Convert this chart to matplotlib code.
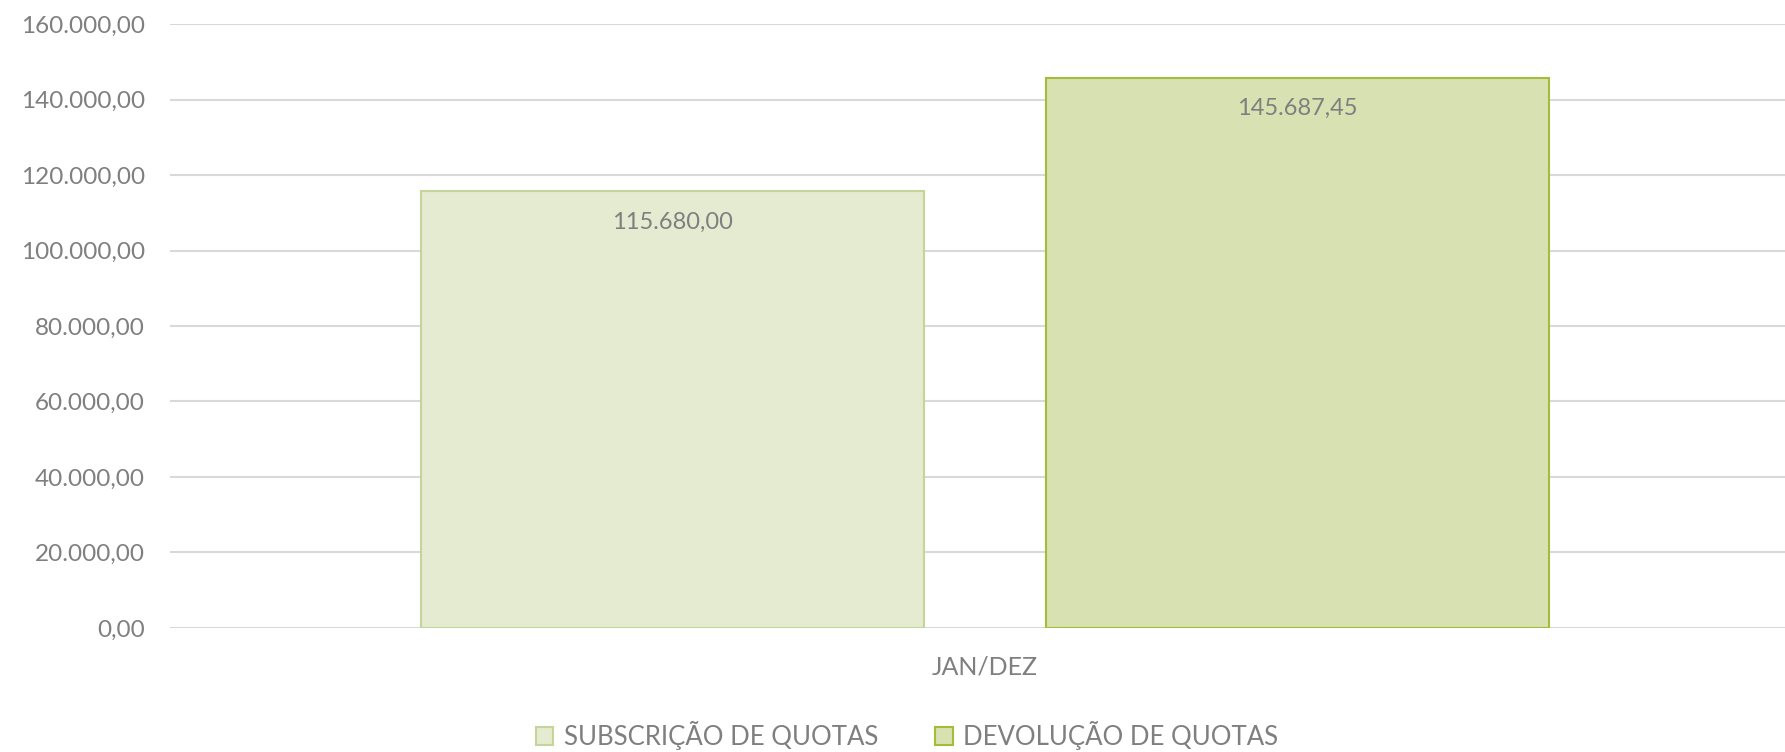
import numpy as np
import matplotlib
matplotlib.use("Agg")
from matplotlib import pyplot as plt
from matplotlib.ticker import FuncFormatter

plt.rcParams["font.family"] = ["Lato", "DejaVu Sans"]

categories = ["JAN/DEZ"]
series_names = ["SUBSCRIÇÃO DE QUOTAS", "DEVOLUÇÃO DE QUOTAS"]
subscricao = [115680.00]
devolucao = [145687.45]

fills = ["#e4ebd0", "#d8e1b2"]
edges = ["#c5d49a", "#a3bd38"]
text_col = "#7f7f7f"


def br_fmt(v, pos=None):
    s = f"{v:,.2f}"
    return s.replace(",", "X").replace(".", ",").replace("X", ".")


fig = plt.figure(figsize=(17.85, 7.52), dpi=100)
ax = fig.add_axes([0.0952, 0.165, 0.9048, 0.803])

x = np.arange(len(categories))
width = 0.3115
offset = 0.1935
bars1 = ax.bar(x - offset, subscricao, width, color=fills[0], edgecolor=edges[0],
               linewidth=1.5, label=series_names[0], zorder=3)
bars2 = ax.bar(x + offset, devolucao, width, color=fills[1], edgecolor=edges[1],
               linewidth=1.5, label=series_names[1], zorder=3)

for bars in (bars1, bars2):
    for b in bars:
        ax.annotate(br_fmt(b.get_height()), (b.get_x() + b.get_width() / 2, b.get_height()),
                    xytext=(0, -22), textcoords="offset points", ha="center", va="center",
                    fontsize=17, color=text_col, zorder=4)

ax.set_xlim(-0.5045, 0.4955)
ax.set_ylim(0, 160000)
ax.set_yticks(np.arange(0, 160001, 20000))
ax.yaxis.set_major_formatter(FuncFormatter(br_fmt))
ax.set_xticks(x)
ax.set_xticklabels(categories)
ax.grid(axis="y", color="#d9d9d9", linewidth=1.5, zorder=0)
for sp in ax.spines.values():
    sp.set_visible(False)
ax.tick_params(axis="both", length=0, colors=text_col)
ax.tick_params(axis="y", pad=18, labelsize=17.5)
ax.tick_params(axis="x", pad=20, labelsize=18)

fig.legend(loc="center", bbox_to_anchor=(0.508, 0.022), ncol=2, frameon=False,
           fontsize=18.5, labelcolor=text_col, handlelength=0.7, handleheight=0.7,
           handletextpad=0.4, columnspacing=2.2)

plt.savefig("out.png")
plt.close()
